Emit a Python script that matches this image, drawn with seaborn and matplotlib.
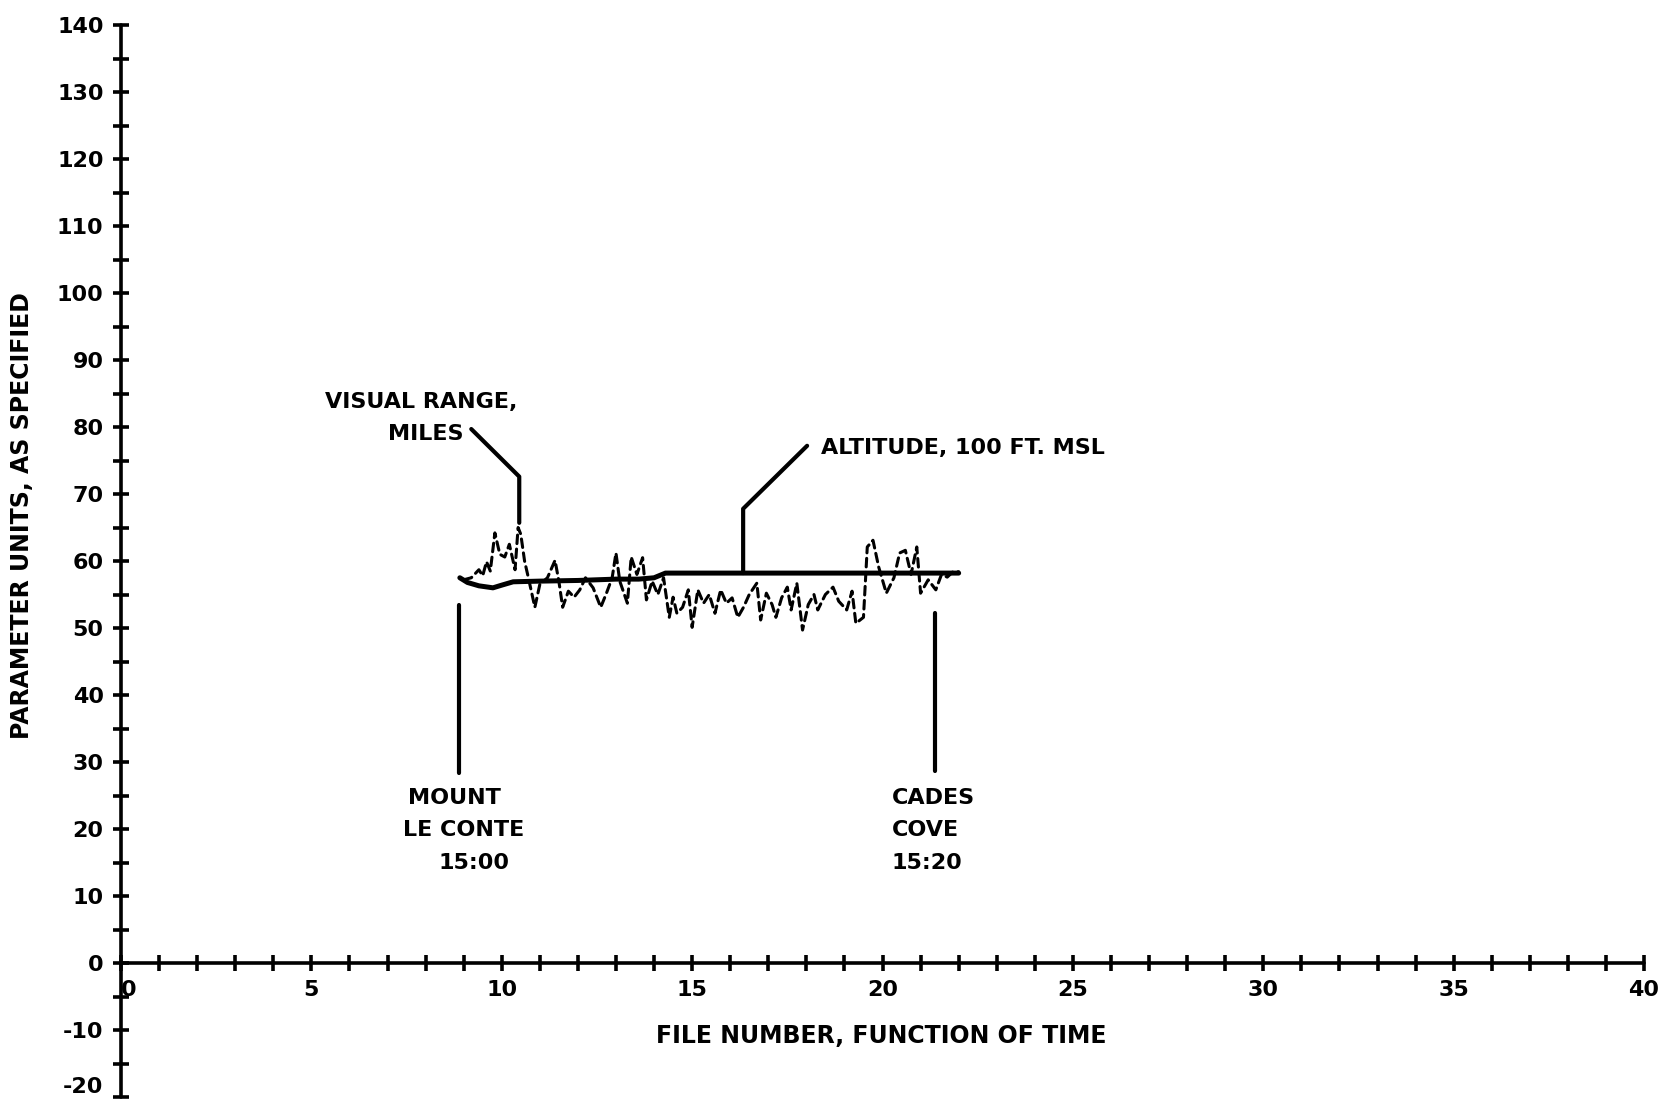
import numpy as np
import pandas as pd
import matplotlib
matplotlib.use("Agg")
import matplotlib.pyplot as plt
from matplotlib.ticker import MultipleLocator
import seaborn as sns

# ---------------- data ----------------
altitude_x = [8.9, 9.1, 9.4, 9.77, 10.0, 10.3, 11.0, 12.0, 13.0, 13.6, 14.0, 14.3, 15.0, 16.0, 17.0, 18.0, 19.0, 20.0, 21.0, 22.0]
altitude_y = [57.5, 56.8, 56.3, 56.0, 56.4, 56.9, 57.0, 57.1, 57.3, 57.3, 57.5, 58.2, 58.2, 58.2, 58.2, 58.2, 58.2, 58.2, 58.2, 58.2]

visual_x = [9.0, 9.2, 9.4, 9.5, 9.6, 9.7, 9.82, 9.95, 10.08, 10.2, 10.35, 10.43, 10.5, 10.6, 10.7,
            10.87, 11.0, 11.2, 11.4, 11.5, 11.6, 11.75, 11.9, 12.05, 12.2, 12.4, 12.6, 12.75, 12.9,
            13.0, 13.1, 13.3, 13.4, 13.55, 13.7, 13.8, 13.95, 14.1, 14.25, 14.4, 14.5, 14.6, 14.75,
            14.9, 15.0, 15.15, 15.3, 15.45, 15.6, 15.75, 15.9, 16.05, 16.2, 16.35, 16.5, 16.7, 16.8,
            16.95, 17.1, 17.2, 17.35, 17.5, 17.6, 17.75, 17.9, 18.05, 18.2, 18.3, 18.5, 18.7, 18.85,
            19.06, 19.2, 19.3, 19.5, 19.6, 19.75, 19.9, 20.1, 20.3, 20.45, 20.6, 20.75, 20.9, 21.0,
            21.2, 21.4, 21.55, 21.7, 21.85, 22.0]
visual_y = [57.2, 57.5, 58.7, 57.8, 59.9, 58.5, 64.2, 61.0, 60.6, 62.5, 58.7, 65.0, 64.0, 60.0, 57.5,
            53.1, 56.5, 57.5, 60.1, 57.0, 53.1, 55.5, 54.6, 55.7, 57.5, 56.0, 53.1, 55.2, 57.5,
            61.2, 57.0, 53.7, 60.6, 58.0, 60.5, 54.2, 57.0, 55.0, 57.5, 51.6, 54.6, 52.2, 53.1,
            55.7, 50.1, 55.7, 53.7, 55.0, 52.2, 55.7, 53.7, 54.5, 51.6, 53.1, 55.0, 56.7, 51.2,
            55.2, 53.5, 51.6, 54.5, 56.1, 52.7, 56.7, 49.7, 53.5, 55.0, 52.7, 55.0, 56.1, 54.0,
            52.7, 55.5, 50.7, 51.6, 62.1, 63.1, 59.1, 55.2, 57.5, 61.2, 61.6, 58.0, 62.1, 55.2,
            57.2, 55.7, 58.0, 57.6, 58.4, 58.4]

x_tick_values = [0, 5, 10, 15, 20, 25, 30, 35, 40]
x_tick_labels = ["0", "5", "10", "15", "20", "25", "30", "35", "40"]
y_tick_values = [-20, -10, 0, 10, 20, 30, 40, 50, 60, 70, 80, 90, 100, 110, 120, 130, 140]
y_tick_labels = [str(v) for v in y_tick_values]

# ---------------- style ----------------
sns.set_style("white")
plt.rcParams["font.family"] = ["DejaVu Sans"]
plt.rcParams["font.weight"] = "bold"
plt.rcParams["axes.unicode_minus"] = False
plt.rcParams["text.color"] = "black"
plt.rcParams["axes.labelcolor"] = "black"
plt.rcParams["xtick.color"] = "black"
plt.rcParams["ytick.color"] = "black"

FS = 16
fig = plt.figure(figsize=(16.73, 11.02), dpi=100)
ax = fig.add_axes([0.0723, 0.0045, 0.9104, 0.9728])

alt_df = pd.DataFrame({"x": altitude_x, "y": altitude_y})
vis_df = pd.DataFrame({"x": visual_x, "y": visual_y})

sns.lineplot(data=vis_df, x="x", y="y", ax=ax, color="black", linewidth=2.2,
             estimator=None, sort=False)
ax.lines[-1].set_linestyle((0, (2.8, 1.8)))
ax.lines[-1].set_dash_capstyle("round")
sns.lineplot(data=alt_df, x="x", y="y", ax=ax, color="black", linewidth=3.6,
             estimator=None, sort=False)

ax.set_xlim(0, 40)
ax.set_ylim(-20, 140)

# spines
for s in ["top", "right"]:
    ax.spines[s].set_visible(False)
ax.spines["bottom"].set_position(("data", 0))
for s in ["left", "bottom"]:
    ax.spines[s].set_linewidth(2.6)
    ax.spines[s].set_color("black")
    ax.spines[s].set_capstyle("round")

ax.set_xticks(x_tick_values)
xl = ax.set_xticklabels(x_tick_labels, fontsize=FS, fontweight="bold")
xl[0].set_ha("left")
ax.set_yticks(y_tick_values)
yl = ax.set_yticklabels(y_tick_labels, fontsize=FS, fontweight="bold")
yl[0].set_va("bottom")
ax.xaxis.set_minor_locator(MultipleLocator(1))
ax.yaxis.set_minor_locator(MultipleLocator(5))
ax.tick_params(which="both", bottom=True, left=True, top=False, right=False,
               direction="inout", length=11, width=2.6, color="black")
ax.tick_params(axis="x", which="major", pad=7)
ax.tick_params(axis="y", which="major", pad=7)
ax.tick_params(which="minor", labelleft=False, labelbottom=False)

ax.set_xlabel("FILE NUMBER, FUNCTION OF TIME", fontsize=17, fontweight="bold")
ax.xaxis.set_label_coords(0.499, 0.068)
ax.set_ylabel("PARAMETER UNITS, AS SPECIFIED", fontsize=17, fontweight="bold")
ax.yaxis.set_label_coords(-0.057, 0.542)

# ---------------- annotations ----------------
lw_ann = 3.0
ax.plot([9.2, 10.46, 10.46], [79.7, 72.6, 65.7], color="black", lw=lw_ann, solid_capstyle="round")
ax.text(7.89, 83.7, "VISUAL RANGE,", fontsize=FS, fontweight="bold", ha="center", va="center")
ax.text(9.0, 78.9, "MILES", fontsize=FS, fontweight="bold", ha="right", va="center")

ax.plot([16.34, 16.34, 18.02], [58.2, 67.8, 77.2], color="black", lw=lw_ann, solid_capstyle="round")
ax.text(18.39, 76.8, "ALTITUDE, 100 FT. MSL", fontsize=FS, fontweight="bold",
        ha="left", va="center")

ax.plot([8.87, 8.87], [53.4, 28.3], color="black", lw=lw_ann, solid_capstyle="round")
ax.text(8.76, 24.6, "MOUNT", fontsize=FS, fontweight="bold", ha="center", va="center")
ax.text(9.0, 19.8, "LE CONTE", fontsize=FS, fontweight="bold", ha="center", va="center")
ax.text(9.28, 15.0, "15:00", fontsize=FS, fontweight="bold", ha="center", va="center")

ax.plot([21.39, 21.39], [52.2, 28.6], color="black", lw=lw_ann, solid_capstyle="round")
ax.text(20.24, 24.6, "CADES", fontsize=FS, fontweight="bold", ha="left", va="center")
ax.text(20.24, 19.8, "COVE", fontsize=FS, fontweight="bold", ha="left", va="center")
ax.text(20.24, 15.0, "15:20", fontsize=FS, fontweight="bold", ha="left", va="center")

fig.savefig("out.png", dpi=100, facecolor="white")
